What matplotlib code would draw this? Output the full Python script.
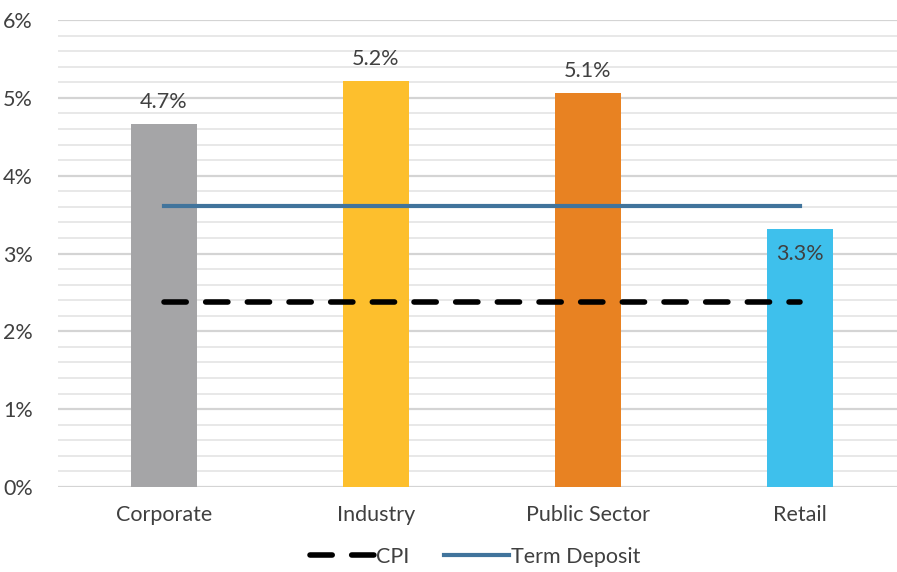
import matplotlib.pyplot as plt
from matplotlib.ticker import MultipleLocator, FuncFormatter

plt.rcParams['font.family'] = ['Lato', 'DejaVu Sans']

# 数据
categories = ['Corporate', 'Industry', 'Public Sector', 'Retail']
rates = [4.67, 5.22, 5.06, 3.32]
rate_labels = ['4.7%', '5.2%', '5.1%', '3.3%']
bar_colors = ['#A5A5A7', '#FDBF2D', '#E88222', '#3EC0EC']
cpi = [2.38, 2.38, 2.38, 2.38]
term_deposit = [3.61, 3.61, 3.61, 3.61]

text_color = '#404040'
fs = 15.5

fig = plt.figure(figsize=(8.97, 5.72), dpi=100)
ax = fig.add_axes([58 / 897, 1 - 487 / 572, 1 - 58 / 897, (487 - 20) / 572])

x = list(range(len(categories)))
ax.bar(x, rates, width=0.31, color=bar_colors, zorder=3)

# 标签
for i, (v, lab) in enumerate(zip(rates, rate_labels)):
    if i == 3:
        ax.text(i, v - 0.2, lab, ha='center', va='top', fontsize=fs, color=text_color, zorder=5)
    else:
        ax.text(i, v + 0.15, lab, ha='center', va='bottom', fontsize=fs, color=text_color, zorder=5)

ax.plot(x, cpi, color='black', linewidth=4, dashes=(4, 3.5), dash_capstyle='round',
        label='CPI', zorder=4)
ax.plot(x, term_deposit, color='#41749C', linewidth=3, label='Term Deposit', zorder=4)

ax.set_ylim(0, 6)
ax.set_xlim(-0.5, 3.5 - 9 / 212)
ax.yaxis.set_major_locator(MultipleLocator(1))
ax.yaxis.set_minor_locator(MultipleLocator(0.2))
ax.yaxis.set_major_formatter(FuncFormatter(lambda v, p: '%d%%' % v))
ax.grid(axis='y', which='major', color='#D4D4D4', linewidth=1.6, zorder=0)
ax.grid(axis='y', which='minor', color='#E8E8E8', linewidth=1.4, zorder=0)
ax.set_axisbelow(True)

ax.set_xticks(x)
ax.set_xticklabels(categories)
ax.tick_params(axis='both', which='both', length=0, labelsize=fs, labelcolor=text_color)
ax.tick_params(axis='x', pad=13)
ax.tick_params(axis='y', pad=18)
for s in ax.spines.values():
    s.set_visible(False)

leg = fig.legend(loc='center', bbox_to_anchor=(475 / 897, 1 - 557 / 572), ncol=2, frameon=False,
                 fontsize=fs, handlelength=3.0, handletextpad=0.1, columnspacing=1.6)
for t in leg.get_texts():
    t.set_color(text_color)

fig.savefig('out.png', dpi=100)
